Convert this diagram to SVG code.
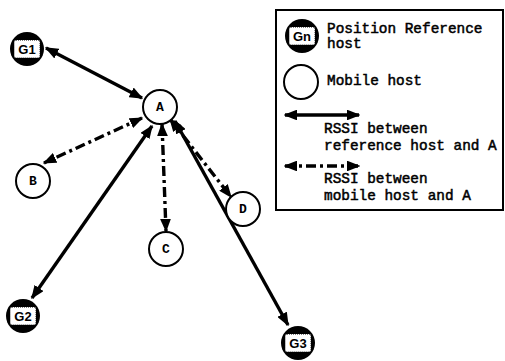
<svg xmlns="http://www.w3.org/2000/svg" width="505" height="361" viewBox="0 0 505 361">
  <style>
    .mob { fill: #fff; stroke: #000; stroke-width: 2; }
    .ref { fill: #000; }
    .refpad { fill: #fff; stroke: #000; stroke-width: 1; stroke-dasharray: 1 1; }
    .lbl { font-family: "Liberation Mono", "Courier New", monospace; font-weight: bold; font-size: 13px; text-anchor: middle; dominant-baseline: central; }
    .glbl { font-family: "Liberation Sans", Arial, sans-serif; font-weight: bold; font-size: 13px; text-anchor: middle; dominant-baseline: central; }
    .txt { font-family: "Liberation Mono", "Courier New", monospace; font-size: 14.4px; fill: #000; stroke: #000; stroke-width: 0.5; }
    .solid { stroke: #000; stroke-width: 3.4; fill: none; marker-start: url(#ah); marker-end: url(#ah); }
    .dash { stroke: #000; stroke-width: 3.4; fill: none; stroke-dasharray: 10 4 3 4; marker-start: url(#ah); marker-end: url(#ah); }
  </style>
  <defs>
    <marker id="ah" viewBox="0 0 10 8" refX="9" refY="4" markerWidth="4" markerHeight="3.2" orient="auto-start-reverse" markerUnits="strokeWidth">
      <path d="M0,0 L10,4 L0,8 z" fill="#000"/>
    </marker>
  </defs>

  <!-- links between hosts -->
  <g id="connectors">
    <line class="solid" x1="46" y1="48" x2="142" y2="98"/>
    <line class="dash" x1="142" y1="118" x2="44" y2="163"/>
    <line class="solid" x1="152" y1="126" x2="32" y2="298"/>
    <line class="dash" x1="162" y1="124" x2="166" y2="231"/>
    <line class="dash" x1="170" y1="119" x2="231" y2="197"/>
    <line class="solid" x1="175" y1="121" x2="288" y2="325"/>
  </g>

  <!-- position reference hosts -->
  <g id="G1">
    <circle class="ref" cx="27" cy="49" r="17"/>
    <rect class="refpad" x="14" y="40" width="26" height="18" rx="2"/>
    <text class="glbl" x="27" y="49">G1</text>
  </g>
  <g id="G2">
    <circle class="ref" cx="23" cy="316" r="17"/>
    <rect class="refpad" x="10" y="307" width="26" height="18" rx="2"/>
    <text class="glbl" x="23" y="316">G2</text>
  </g>
  <g id="G3">
    <circle class="ref" cx="298" cy="343" r="17"/>
    <rect class="refpad" x="285" y="334" width="26" height="18" rx="2"/>
    <text class="glbl" x="298" y="343">G3</text>
  </g>

  <!-- mobile hosts -->
  <g id="A">
    <circle class="mob" cx="160" cy="107" r="17"/>
    <text class="lbl" x="160" y="107">A</text>
  </g>
  <g id="B">
    <circle class="mob" cx="33" cy="181" r="17"/>
    <text class="lbl" x="33" y="181">B</text>
  </g>
  <g id="C">
    <circle class="mob" cx="166" cy="249" r="17"/>
    <text class="lbl" x="166" y="249">C</text>
  </g>
  <g id="D">
    <circle class="mob" cx="243" cy="209" r="17"/>
    <text class="lbl" x="243" y="209">D</text>
  </g>

  <!-- legend -->
  <g id="legend">
    <rect x="276" y="10" width="227" height="200" fill="#fff" stroke="#000" stroke-width="2"/>
    <circle class="ref" cx="302" cy="36" r="17"/>
    <rect class="refpad" x="289" y="27" width="26" height="18" rx="2"/>
    <text class="glbl" x="302" y="36">Gn</text>
    <text class="txt" x="327" y="33">Position Reference</text>
    <text class="txt" x="327" y="48">host</text>
    <circle class="mob" cx="301" cy="82" r="17"/>
    <text class="txt" x="327" y="85">Mobile host</text>
    <line class="solid" x1="285" y1="115" x2="359" y2="115"/>
    <text class="txt" x="324" y="133">RSSI between</text>
    <text class="txt" x="324" y="150">reference host and A</text>
    <line class="dash" x1="285" y1="166" x2="359" y2="166" stroke-dasharray="22 5 3 5"/>
    <text class="txt" x="324" y="183">RSSI between</text>
    <text class="txt" x="324" y="200">mobile host and A</text>
  </g>
</svg>
